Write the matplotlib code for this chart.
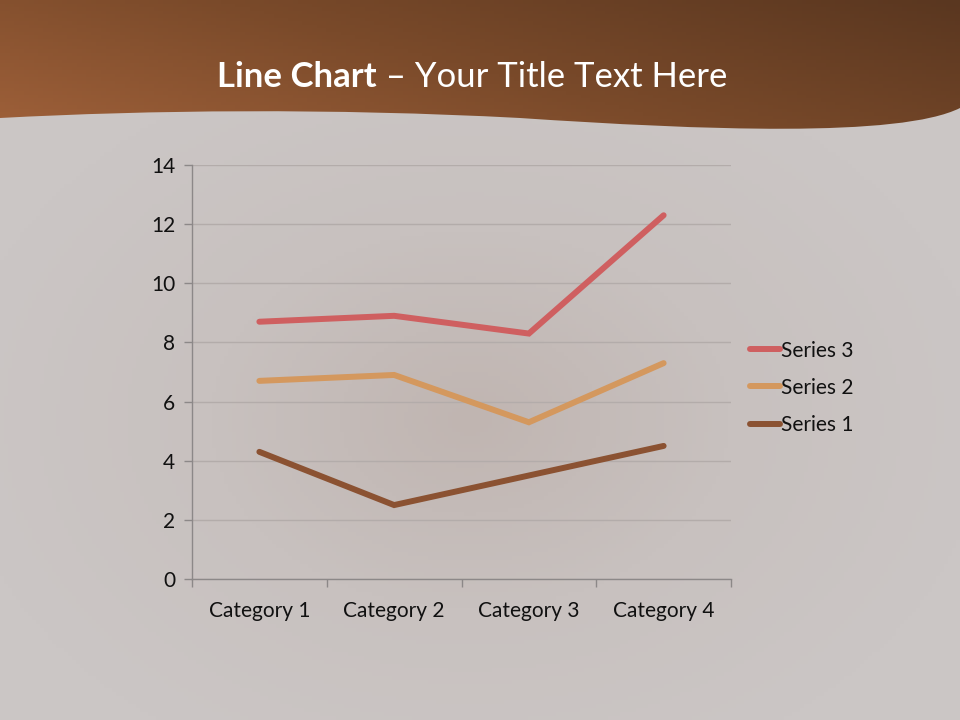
import numpy as np
import matplotlib.pyplot as plt
from matplotlib.path import Path
from matplotlib.patches import PathPatch
from matplotlib.colors import LinearSegmentedColormap

# --- Data
categories = ["Category 1", "Category 2", "Category 3", "Category 4"]
series_names = ["Series 1", "Series 2", "Series 3"]
series1 = [4.3, 2.5, 3.5, 4.5]
series2 = [6.7, 6.9, 5.3, 7.3]
series3 = [8.7, 8.9, 8.3, 12.3]
yticks = [0, 2, 4, 6, 8, 10, 12, 14]
colors = ["#8b5232", "#d4985e", "#cf5f60"]

plt.rcParams['font.family'] = ['Lato', 'DejaVu Sans']

fig = plt.figure(figsize=(9.6, 7.2), dpi=100)

# --- Slide background (soft radial gradient)
bg = fig.add_axes([0, 0, 1, 1])
bg.set_xlim(0, 960)
bg.set_ylim(720, 0)
bg.axis('off')
gx, gy = np.meshgrid(np.linspace(0, 960, 240), np.linspace(0, 720, 180))
r = np.sqrt(((gx - 470) / 520) ** 2 + ((gy - 420) / 380) ** 2)
r = np.clip(r, 0, 1)
bg_cmap = LinearSegmentedColormap.from_list("bg", ["#c0b5b1", "#c8c1bf", "#cbc6c5"])
bg.imshow(r, extent=[0, 960, 720, 0], cmap=bg_cmap, vmin=0, vmax=1,
          aspect='auto', zorder=0)

# --- Header band with wavy bottom edge
verts = [(0, 0), (960, 0), (960, 108),
         (900, 138), (700, 130), (520, 118),
         (330, 108), (150, 110), (0, 118),
         (0, 0)]
codes = [Path.MOVETO, Path.LINETO, Path.LINETO,
         Path.CURVE4, Path.CURVE4, Path.CURVE4,
         Path.CURVE4, Path.CURVE4, Path.CURVE4,
         Path.CLOSEPOLY]
clip = PathPatch(Path(verts, codes), facecolor='none', edgecolor='none',
                 transform=bg.transData)
bg.add_patch(clip)
hx, hy = np.meshgrid(np.linspace(0, 1, 200), np.linspace(0, 1, 40))
t = np.clip(0.65 * hx + 0.35 * hy, 0, 1)
head_cmap = LinearSegmentedColormap.from_list("head", ["#a0613a", "#7a4a2a", "#5a3720"])
im = bg.imshow(t, extent=[0, 960, 140, 0], cmap=head_cmap, vmin=0, vmax=1,
               aspect='auto', zorder=1, origin='lower')
im.set_clip_path(clip)

# title: bold part + regular part, centred as a whole
t1 = bg.text(0, 77, "Line Chart", ha='left', va='center', color='white',
             fontsize=25, fontweight='bold', zorder=3)
t2 = bg.text(0, 77, " \u2013 Your Title Text Here", ha='left', va='center',
             color='white', fontsize=25, zorder=3)
rend = fig.canvas.get_renderer()
w1 = t1.get_window_extent(rend).width
w2 = t2.get_window_extent(rend).width
x0 = 472 - (w1 + w2) / 2
t1.set_x(x0)
t2.set_x(x0 + w1)

# --- Chart
ax = fig.add_axes([192 / 960, 1 - 579 / 720, 539 / 960, 414 / 720])
ax.patch.set_alpha(0)
x = np.arange(len(categories))
for name, vals, c in zip(series_names, [series1, series2, series3], colors):
    ax.plot(x, vals, color=c, linewidth=4.3, solid_capstyle='round',
            solid_joinstyle='miter', label=name, zorder=3)

ax.set_xlim(-0.5, len(categories) - 0.5)
ax.set_ylim(0, 14)
ax.set_yticks(yticks)
ax.set_xticks(np.arange(len(categories) + 1) - 0.5, minor=False)
ax.set_xticklabels([])
ax.set_xticks(x, minor=True)
ax.set_xticklabels(categories, minor=True)
ax.tick_params(axis='x', which='major', length=6, color='#8c8888', width=1)
ax.tick_params(axis='x', which='minor', length=0, pad=16, labelsize=15,
               labelcolor='#111111')
ax.tick_params(axis='y', length=6, color='#8c8888', width=1, pad=6,
               labelsize=15, labelcolor='#111111')
ax.grid(axis='y', color='#b3acaa', linewidth=1)
ax.set_axisbelow(True)
for s in ['top', 'right']:
    ax.spines[s].set_visible(False)
for s in ['left', 'bottom']:
    ax.spines[s].set_color('#8c8888')
    ax.spines[s].set_linewidth(1)

h, l = ax.get_legend_handles_labels()
ax.legend(h[::-1], l[::-1], loc='center left', bbox_to_anchor=(1.035, 0.462),
          frameon=False, fontsize=15, handlelength=1.45, handletextpad=0.05,
          labelspacing=0.82, borderaxespad=0, borderpad=0,
          labelcolor='#111111')

fig.savefig("out.png", dpi=100)
